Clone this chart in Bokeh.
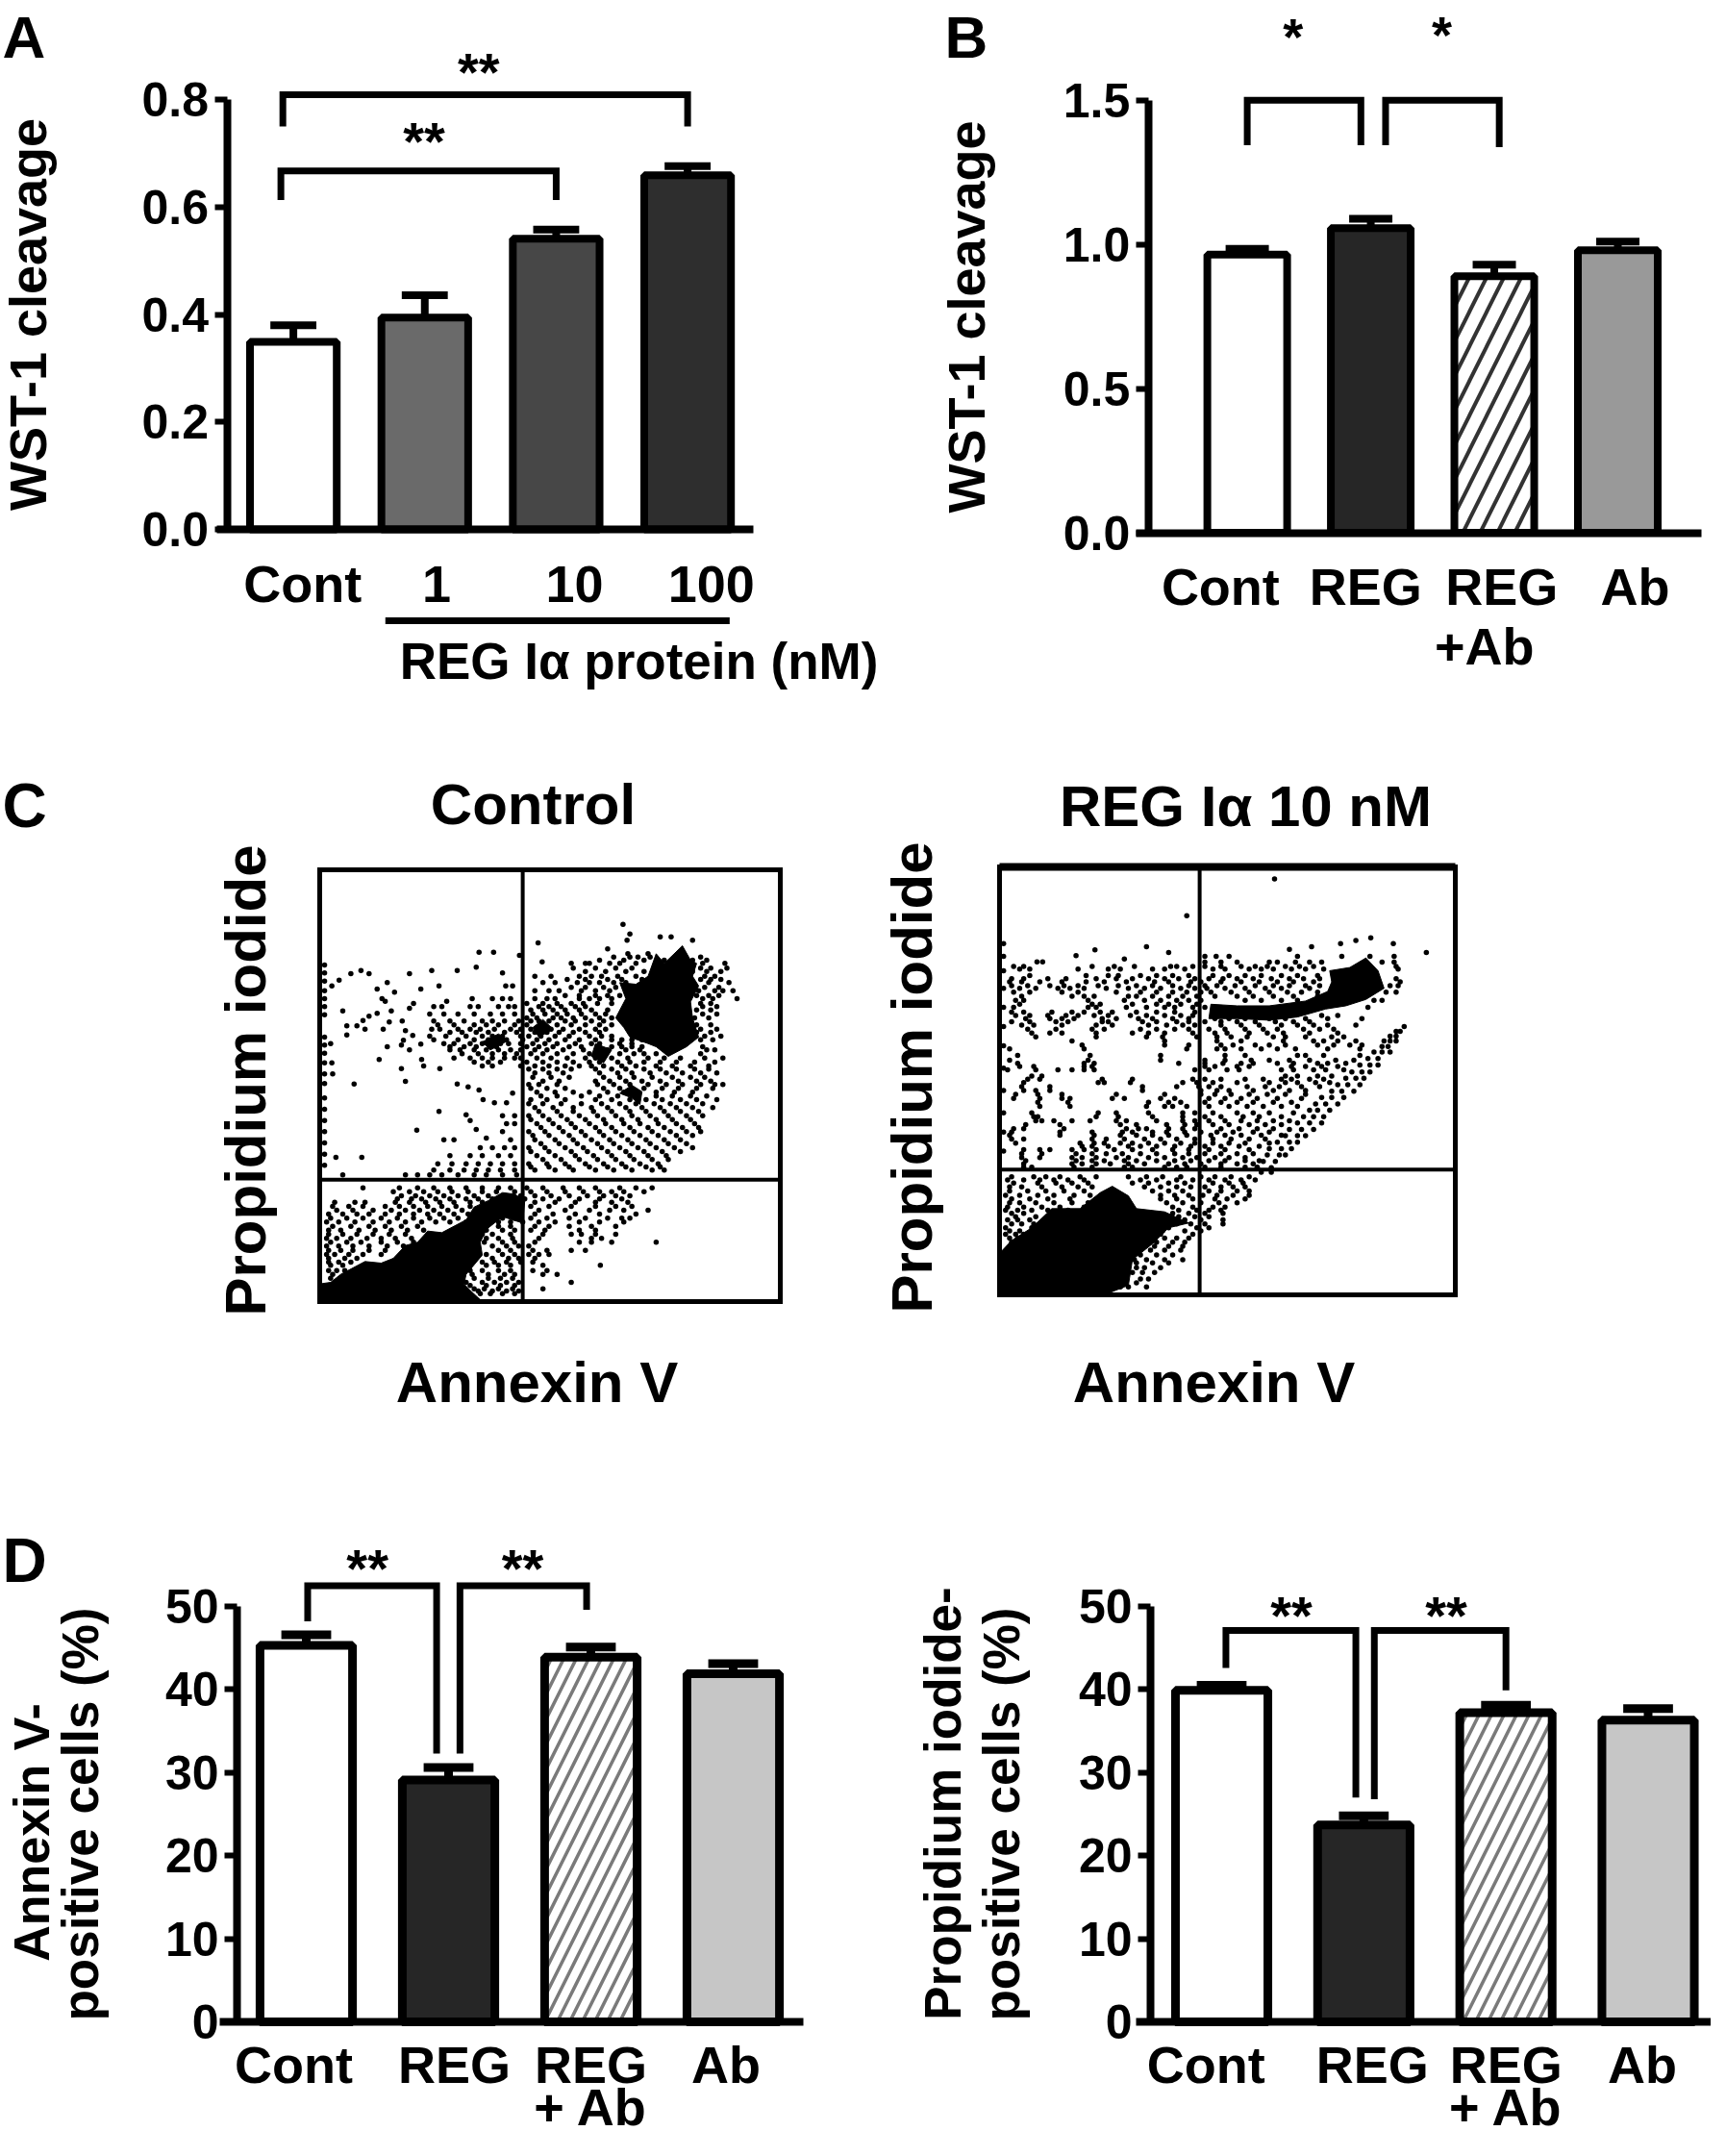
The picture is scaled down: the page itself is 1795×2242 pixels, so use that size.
from math import pi
from bokeh.plotting import figure
from bokeh.layouts import column, row
from bokeh.models import Range1d, LinearAxis, FixedTicker, PrintfTickFormatter
from bokeh.core.properties import value
from bokeh.embed import file_html
from bokeh.resources import INLINE

FONT = "Liberation Sans"

# ---------- Panel A ----------
a_labels = ["Cont", "1", "10", "100"]
a_mean = [0.349, 0.394, 0.541, 0.659]
a_err = [0.380, 0.436, 0.558, 0.676]
a_fill = ["#ffffff", "#6a6a6a", "#474747", "#2e2e2e"]
a_ticks = [1.07, 2.09, 3.14, 4.18]
a_yticks = [0, 0.2, 0.4, 0.6, 0.8]
a_br_x = [[0.92, 0.92, 4.0, 4.0], [0.905, 0.905, 3.0, 3.0]]
a_br_y = [[0.75, 0.809, 0.809, 0.75], [0.613, 0.667, 0.667, 0.613]]
a_star_x = [2.41, 1.995]
a_star_y = [0.866, 0.738]

# ---------- Panel B ----------
b_labels = ["Cont", "REG", "REG", "Ab"]
b_mean = [0.965, 1.057, 0.89, 0.98]
b_err = [0.985, 1.09, 0.93, 1.01]
b_fill = ["#ffffff", "#262626", "#ffffff", "#999999"]
b_ticks = [0.784, 1.958, 3.06, 4.14]
b_yticks = [0, 0.5, 1.0, 1.5]
b_br_x = [[1.0, 1.0, 1.92, 1.92], [2.12, 2.12, 3.04, 3.04]]
b_br_y = [[1.345, 1.501, 1.501, 1.345], [1.345, 1.501, 1.501, 1.338]]
b_star_x = [1.37, 2.575]
b_star_y = [1.748, 1.754]

# ---------- Panel D ----------
d_labels = ["Cont", "REG", "REG", "Ab"]
d_yticks = [0, 10, 20, 30, 40, 50]
d_fill = ["#ffffff", "#262626", "#ffffff", "#c6c6c6"]
d1_mean = [45.3, 29.1, 43.9, 41.9]
d1_err = [46.6, 30.6, 45.1, 43.1]
d1_ticks = [0.912, 2.04, 3.0, 3.95]
d1_br_x = [[1.01, 1.01, 1.916, 1.916], [2.08, 2.08, 2.97, 2.97]]
d1_br_y = [[48.2, 52.5, 52.5, 32.3], [32.3, 52.5, 52.5, 49.6]]
d1_star_x = [1.43, 2.52]
d1_star_y = [55.5, 55.5]
d2_mean = [39.9, 23.7, 37.2, 36.3]
d2_err = [40.5, 24.8, 38.1, 37.7]
d2_ticks = [0.89, 2.06, 3.0, 3.96]
d2_br_x = [[1.03, 1.03, 1.944, 1.944], [2.074, 2.074, 3.0, 3.0]]
d2_br_y = [[42.6, 47.1, 47.1, 27.0], [26.8, 47.1, 47.1, 39.9]]
d2_star_x = [1.49, 2.58]
d2_star_y = [49.9, 49.9]

# ---------- Panel C: dots (channel units, y grows downward) ----------
c1_box = [318, 1457, 78, 1425]
c1_gate_x = 820
c1_gate_y = 1045
c1_dense = [
    [(1150,340),(1170,370),(1215,315),(1235,360),(1250,370),(1240,410),(1255,440),(1235,490),(1240,540),(1255,600),(1225,630),(1180,660),(1150,630),(1130,620),(1085,600),(1070,570),(1050,540),(1075,480),(1060,430),(1100,435),(1130,410)],
    [(318,1425),(318,1370),(345,1365),(370,1340),(400,1320),(430,1300),(470,1305),(500,1290),(530,1250),(560,1240),(585,1205),(620,1210),(680,1170),(700,1130),(735,1110),(770,1085),(800,1090),(825,1110),(820,1180),(770,1160),(730,1200),(715,1240),(720,1280),(680,1340),(675,1370),(690,1390),(720,1425)],
    [(1090,750),(1115,770),(1110,810),(1090,790),(1060,775)],
    [(870,545),(895,575),(860,600),(845,570)],
    [(1000,620),(1040,640),(1020,680),(990,660)],
    [(760,590),(785,610),(740,640),(720,615)],
]
c1_pairs = [(1068,248),(1085,278),(1078,298),(1160,287),(1187,287),(1240,298),(858,306),(1030,325),(712,335),(748,335),(812,345),(868,365),(705,382),(770,400),(658,392),(595,392),(540,402),(420,392),(395,402),(440,402),(366,422),(348,440),(485,430),(460,450),(503,460),(613,440),(568,450),(778,440),(795,440),(472,480),(480,488),(632,488),(550,495),(540,510),(375,518),(460,526),(495,518),(440,535),(425,548),(410,565),(385,565),(430,575),(385,593),(490,553),(522,550),(475,575),(530,580),(548,595),(525,610),(485,630),(520,625),(540,640),(568,622),(465,670),(570,670),(575,690),(520,698),(615,698),(530,738),(403,746),(658,746),(685,755),(712,765),(722,795),(795,775),(750,805),(780,805),(613,832),(680,842),(690,860),(558,890),(705,888),(730,915),(358,975),(422,975),(330,375),(330,400),(330,425),(330,455),(330,480),(330,505),(330,530),(330,600),(330,625),(330,650),(330,680),(330,715),(330,745),(330,790),(330,825),(330,860),(330,895),(330,930),(330,965),(330,1000),(345,620),(348,680),(350,715),(375,1030)]
c1_rows = {
    340: [1080,1130], 350: [1045,1085,1105,1135,1260], 370: [940,975,985,1035,1060,1100,1265,1320],
    385: [945,1000,1050,1090,1260,1285,1325], 410: [850,890,960,990,1015,1055,1100,1270,1295],
    430: [870,900,955,985,1010,1045,1075,1280,1330], 455: [850,885,910,965,1000,1035,1255,1295,1315,1340],
    480: [695,745,770,790,850,880,900,960,985,1010,1040,1265,1290,1350],
    505: [600,620,690,710,760,785,800,860,885,915,950,975,1265,1300],
    528: [590,625,660,700,740,770,800,845,875,905,930,965,1000,1025,1265,1300],
    550: [600,640,675,720,745,775,810,840,860,885,925,950,990,1020],
    575: [595,615,660,690,715,750,790,815,840,865,890,920,960,1000,1025,1260,1300],
    597: [590,630,680,720,745,770,815,835,865,900,935,985,1015,1040,1270,1310],
    620: [625,650,690,720,740,765,785,815,845,875,905,950,990,1010,1060,1090],
    640: [640,665,700,730,760,790,815,850,880,920,970,1005,1030,1075,1110,1275,1295],
    665: [650,690,720,745,775,800,815,855,890,930,975,1000,1040,1080,1130,1170,1210,1270,1315],
    690: [720,745,815,850,885,925,960,990,1020,1065,1100,1150,1190,1235,1280],
    700: [835,870,905,940,1000,1040,1075,1120,1160,1200,1245,1280],
    725: [845,890,935,1020,1060,1095,1140,1190,1235,1270],
    748: [835,860,905,1005,1045,1085,1130,1175,1215,1260,1295,1315],
    772: [855,900,945,985,1030,1070,1100,1150,1195,1240],
    795: [840,880,925,1000,1040,1085,1125,1165,1210,1250,1300],
    820: [850,895,945,990,1030,1075,1115,1160,1200,1240,1290],
    845: [770,800,835,870,915,960,1005,1050,1090,1135,1180,1225,1265],
    870: [780,800,855,895,940,985,1025,1070,1110,1155,1200,1245],
    895: [770,835,875,920,965,1010,1050,1095,1140,1185,1225,1260],
    920: [625,650,790,850,900,945,990,1035,1080,1125,1170,1210],
    945: [715,745,775,800,835,875,925,970,1015,1060,1105,1150,1195,1240],
    970: [640,690,720,760,790,855,900,950,995,1040,1085,1130,1175],
    995: [610,645,680,710,740,770,800,835,880,925,975,1020,1065,1110,1155],
    1015: [600,640,675,705,735,765,800,850,900,945,1000,1045,1090,1140,1170],
    1030: [530,560,590,620,660,700,730,770,805],
    1070: [425,515,560,600,640,680,720,760,790,830,870,920,960,1000,1060,1100,1140],
    1095: [520,555,590,625,660,700,735,775,815,850,890,935,980,1020,1050,1085],
    1115: [355,405,430,505,540,580,615,650,690,720,755,790,850,900,950,1000,1040,1080],
    1140: [360,400,450,495,530,565,600,635,670,705,745,775,860,925,985,1035,1070,1130],
    1165: [345,385,425,470,510,550,590,625,660,700,770,800,840,880,935,975,1030,1065,1085],
    1190: [350,395,440,480,520,560,720,760,790,850,885,935,990,1050],
    1215: [340,375,410,450,490,530,720,745,790,870,940,965,1000,1050],
    1240: [345,385,420,470,510,550,725,770,800,850,960,990,1040,1150],
    1265: [340,370,400,440,480,760,790,845,880,940,975],
    1290: [340,380,410,745,785,810,850],
    1312: [345,375,730,760,790,870,1012],
    1340: [350,695,735,775,800,870,905],
    1365: [680,720,750,780,810,940],
    1385: [700,725,760,795,870],
    1400: [715,740,770,800],
}
c1_rows_between = {
    360: [1010,1070,1120,1170,1240,1275],
    395: [975,1025,1075,1120,1240,1275,1310],
    420: [930,975,1030,1065,1115,1260,1285,1310],
    445: [940,975,1020,1050,1270,1305],
    470: [925,960,1000,1030,1060,1250,1280,1305],
    495: [830,870,905,940,970,1005,1040,1260,1285],
    515: [840,870,895,925,960,990,1030,1250,1285],
    540: [830,855,895,915,945,975,1010,1040,1245,1280],
    562: [610,650,700,730,760,800,830,905,940,975,1010,1040,1250,1285],
    585: [640,670,705,735,775,805,850,880,910,945,975,1010,1250,1285],
    608: [600,660,700,735,780,820,855,885,925,960,1000,1040,1065,1090,1115,1260,1290],
    630: [640,675,705,755,830,860,895,935,965,1005,1040,1065,1090,1115,1265],
    652: [670,710,745,775,805,840,870,905,945,985,1015,1060,1095,1120,1150,1260],
    678: [700,735,765,830,870,905,945,985,1010,1055,1085,1120,1160,1200,1245,1295],
    712: [850,885,920,1010,1055,1090,1135,1175,1215,1260,1300],
    737: [870,910,1000,1035,1075,1115,1160,1205,1250,1285],
    760: [840,880,925,1020,1060,1120,1165,1205,1250,1290],
    784: [865,905,965,1010,1055,1105,1150,1190,1235,1275],
    808: [835,870,915,965,1015,1060,1100,1145,1185,1225,1265],
    832: [860,905,945,995,1040,1085,1125,1170,1210,1255],
    857: [840,885,930,975,1020,1065,1105,1150,1190,1235],
    882: [865,910,950,1000,1040,1085,1130,1170,1215,1255],
    907: [845,885,935,975,1020,1065,1110,1155,1200,1240],
    932: [865,910,955,1005,1045,1090,1135,1180,1225],
    957: [840,885,940,980,1030,1075,1120,1165,1210],
    982: [870,915,960,1005,1050,1095,1140,1180],
    1005: [840,885,935,985,1030,1075,1125,1160],
    1082: [500,540,575,610,645,685,720,755,800,840,880,925,970,1010,1040,1070,1120],
    1105: [510,545,570,605,640,680,710,745,780,825,870,910,960,1010,1065],
    1128: [350,390,425,480,515,550,585,620,655,690,730,765,800,840,885,940,1000,1050,1090],
    1152: [340,375,410,440,480,515,550,585,615,650,685,735,785,815,850,895,950,1010,1100],
    1177: [335,365,405,450,490,530,570,605,640,680,715,760,790,820,860,900,960,1010,1070],
    1202: [340,370,415,455,495,535,575,730,770,800,840,875,960,1000],
    1228: [335,360,395,435,470,505,545,730,760,795,860,990,1015],
    1252: [335,365,400,440,485,525,745,780,810,835],
    1278: [335,355,390,425,470,730,770,800,835,860,885],
    1302: [340,365,395,720,750,780,815,845],
    1328: [340,360,380,690,720,760,790,845,880],
    1352: [345,700,735,765,795],
    1375: [690,730,765,800],
    1392: [710,745,780,810],
}

c2_box = [90, 1222, 60, 1400]
c2_gate_x = 587
c2_gate_y = 1008
c2_dense = [
    [(90,1400),(90,1270),(120,1230),(170,1190),(220,1130),(290,1130),(340,1080),(370,1060),(410,1090),(430,1130),(500,1140),(560,1175),(510,1190),(470,1240),(420,1290),(410,1370),(350,1400)],
    [(910,385),(960,375),(1000,345),(1030,385),(1045,440),(1000,475),(950,495),(900,505),(830,530),(760,540),(680,535),(610,535),(615,490),(680,495),(760,495),(850,480),(905,450),(915,420)],
]
c2_pairs = [(773,98),(555,213),(1150,328),(1012,282),(975,290),(937,300),(1068,300),(865,310),(455,310),(327,320),(510,328),(280,338),(400,348),(810,318),(183,357),(197,357),(100,300),(100,340),(100,385),(100,440),(100,500),(100,560),(100,620),(100,690),(100,760),(100,830),(100,890),(100,950)]
c2_rows = {
    340: [600,628,660,830,940,1010,1070],
    358: [600,640,680,760,780,825,860,890,1040,1070],
    380: [140,165,285,360,390,470,500,550,620,650,710,740,770,815,850,895,1080],
    400: [165,305,360,385,440,480,520,560,620,660,700,740,790,830,880],
    420: [115,145,190,245,305,350,405,475,510,565,590,640,690,735,780,820,870,1085],
    440: [140,180,235,265,300,355,410,450,490,540,575,605,650,700,750,790,860],
    465: [145,270,300,325,410,430,470,510,545,580,625,680,720,770,820,880],
    490: [140,320,340,420,480,510,540,580],
    515: [120,150,220,270,300,340,370,430,480,525,575],
    535: [155,215,245,275,345,380,435,470,520,560,625,660,700,760,800,850,905,990],
    555: [145,175,245,330,370,460,505,545,575,640,690,735,790,830,870,905,975],
    580: [170,215,245,330,420,460,500,570,625,655,710,755,795,860,930],
    605: [270,500,630,690,795,870,895,930,975],
    630: [115,300,555,630,650,690,740,780,825,905,985],
    650: [135,315,490,650,700,830,850,895,985],
    675: [135,300,325,535,600,645,690,720,780,820,880,905,950],
    695: [110,180,235,270,300,325,575,610,655,685,790,820,870,900,945],
    715: [170,195,800,830,880,915],
    735: [150,335,350,415,545,580,620,680,760,800,830,875,910],
    760: [150,180,215,445,590,630,660,720,770,810,850],
    785: [125,190,245,265,370,400,490,525,610,650,690,730,780,840],
    810: [190,265,455,500,520,555,610,660,705,745,790,830],
    830: [170,335,380,460,545,575,620,680,720,760,820],
    855: [180,195,225,270,315,380,405,480,545,575,610,650,690,730,770,810],
    880: [125,150,250,405,435,455,510,545,575,640,685,730,770],
    900: [115,240,325,390,430,470,510,555,615,650,690,740,790],
    925: [130,290,325,350,390,420,460,500,540,575,620,660,700,760],
    945: [150,190,215,270,300,330,375,420,470,520,560,610,650,710],
    970: [145,190,270,295,330,380,410,460,500,545,580,625,660,700],
    990: [150,270,295,330,365,410,450,510,550,590,640,680,720],
    1030: [120,175,205,240,290,330,410,455,495,540,590,625,665,710],
    1050: [125,185,230,270,310,420,460,510,550,620,660,695],
    1075: [115,160,205,250,300,470,510,545,610,640,680,710],
    1100: [120,165,210,265,490,530,570,625,655,700],
    1125: [110,150,195,240,300,320,520,570,620,650],
    1145: [120,150,250,410,520,560,600,645],
    1165: [110,135,165,260,550,590,645],
    1190: [105,170,250,510,580,610],
    1210: [105,130,150,430,490,570],
    1235: [120,150,235,480,520,550],
    1260: [420,465,500,540],
    1290: [105,425,455,500,545],
    1315: [430,450,490],
    1350: [360,440,460],
    1375: [355,390,410,455],
}
c2_rows_between = {
    372: [125,150,320,375,425,515,530,570,600,640,690,725,755,800,835,870,1075],
    410: [120,150,210,255,330,380,420,460,500,535,575,610,645,680,720,765,810,845,885,1075],
    432: [120,160,215,250,285,335,385,430,470,520,560,600,630,675,725,770,810,850,885,1060,1080],
    452: [125,165,245,285,380,440,480,520,555,590,615,665,710,760,805,840,880,1050,1075],
    478: [130,150,310,400,450,490,530,560,590,700,740,790,830,870,1020,1040],
    500: [125,310,330,405,455,500,525,570,600,1005],
    525: [130,165,210,255,285,325,360,415,455,500,540,570,890,930],
    545: [120,165,230,260,345,360,445,480,530,560,600,640,680,725,775,820,860],
    568: [160,230,320,350,440,480,525,560,610,650,700,745,780,845,885,920],
    592: [180,330,455,495,580,630,665,705,770,800,850,915,945],
    618: [295,500,560,640,670,725,760,800,880,920,960,990],
    665: [115,310,490,600,650,715,760,810,860,925,970],
    685: [140,175,300,320,600,625,680,710,815,850,890,930],
    725: [160,190,345,420,570,600,640,700,745,790,815,860,895],
    748: [145,215,445,530,585,610,640,705,750,785,840,885],
    772: [130,185,245,380,500,590,625,665,710,755,800,850],
    797: [185,260,460,510,540,600,640,680,720,770,815],
    842: [175,185,330,385,470,545,600,640,695,735,790],
    867: [155,240,390,430,505,550,580,620,660,710,750,790],
    890: [120,240,320,395,420,470,505,550,590,630,670,720,760],
    912: [120,150,320,355,400,450,490,530,575,620,665,710,750],
    935: [295,320,360,410,440,480,525,565,600,640,685,735],
    958: [145,195,280,320,355,395,440,480,525,560,600,640,680,720],
    980: [155,280,320,350,400,430,480,525,565,610,650,700,735],
    1000: [150,170,275,320,400,420,500,530,555,600,640,700,730],
    1040: [110,150,190,225,260,300,440,480,530,570,610,650,690,725],
    1062: [115,145,195,245,285,320,450,490,530,565,600,640,670,700],
    1088: [105,140,185,225,275,315,490,525,560,595,630,670,710],
    1112: [115,140,180,225,270,310,505,545,590,635,680],
    1135: [105,135,170,210,260,300,535,580,610,640],
    1155: [130,180,240,535,575,610],
    1178: [120,145,175,530,565,600,645],
    1200: [115,140,495,550,590],
    1222: [115,135,440,500,530,560],
    1248: [130,430,475,510,545],
    1275: [415,440,480,520],
    1300: [430,470,510],
    1330: [420,445,475],
    1362: [400,430],
}
# the lower diagonal band of the right cytogram, row by row
c2_band = {
    560: [1095], 575: [1075,1085], 590: [1060,1075], 605: [1045,1060,1075], 622: [1040,1055],
    640: [1020,1040,1060], 660: [1005,1030], 680: [985,1010,1030], 702: [965,990,1010], 722: [950,975,995],
    742: [930,955,985], 762: [915,940,970], 782: [890,915,945], 802: [875,900,930], 822: [860,880,910],
    842: [845,870,895], 862: [830,860,890], 882: [810,840,870], 902: [800,830,850], 922: [780,810,830],
    942: [760,790,815], 962: [755,785,800], 982: [745,775], 1002: [730,765], 1016: [740,765],
}


def make(pl, pt, pr, pb, xa, ya):
    """Figure that covers page box (pl,pt)-(pr,pb); xa and ya anchor value/page-pixel pairs."""
    fx = lambda p: xa[0] + (p - xa[1]) * (xa[2] - xa[0]) / (xa[3] - xa[1])
    fy = lambda p: ya[0] + (p - ya[1]) * (ya[2] - ya[0]) / (ya[3] - ya[1])
    f = figure(width=pr - pl, height=pb - pt, output_backend="svg", toolbar_location=None,
               x_range=Range1d(fx(pl), fx(pr)), y_range=Range1d(fy(pb), fy(pt)),
               x_axis_location=None, y_axis_location=None, min_border=0,
               outline_line_color=None, background_fill_color="white", border_fill_color="white")
    f.grid.visible = False
    return f, fx, fy


def txt(f, x, y, s, size, angle=0, align="center", baseline="middle"):
    f.text(x=[x], y=[y], text=[s], text_font=value(FONT), text_font_style="bold",
           text_font_size=f"{size}px", text_align=align, text_baseline=baseline,
           angle=angle, text_color="black")


def bars(f, mean, err, fill, width, lw, hatch=None, hatch_color="#333333", hatch_scale=24, hatch_weight=4):
    xs = list(range(1, len(mean) + 1))
    f.segment(x0=xs, y0=mean, x1=xs, y1=err, line_color="black", line_width=lw)
    f.segment(x0=[i - 0.175 for i in xs], y0=err, x1=[i + 0.175 for i in xs], y1=err,
              line_color="black", line_width=lw)
    patterns = [" "] * len(xs)
    if hatch is not None:
        patterns[hatch] = "right_diagonal_line"
    f.vbar(x=xs, top=mean, bottom=0, width=width, fill_color=fill, line_color="black", line_width=lw,
           hatch_pattern=patterns, hatch_color=hatch_color, hatch_scale=hatch_scale, hatch_weight=hatch_weight)


def axes(f, ticks, labels, xbounds, xloc, yticks, fmt, ytop, ylabel, standoff, label_standoff, ylabel_size):
    xa = LinearAxis(fixed_location=0, bounds=xbounds, ticker=FixedTicker(ticks=ticks),
                    major_label_overrides=dict(zip(ticks, labels)),
                    major_label_text_font=FONT, major_label_text_font_style="bold",
                    major_label_text_font_size="54px", major_label_text_color="black",
                    major_tick_line_color=None, minor_tick_line_color=None, axis_line_width=8,
                    axis_line_color="black", major_label_standoff=label_standoff)
    f.add_layout(xa, "below")
    ya = LinearAxis(fixed_location=xloc, bounds=(0, ytop), ticker=FixedTicker(ticks=yticks),
                    formatter=PrintfTickFormatter(format=fmt),
                    major_label_text_font=FONT, major_label_text_font_style="bold",
                    major_label_text_font_size="50px", major_label_text_color="black",
                    major_tick_in=0, major_tick_out=13, major_tick_line_width=6, major_tick_line_color="black",
                    minor_tick_line_color=None, axis_line_width=8, axis_line_color="black",
                    major_label_standoff=6, axis_label=ylabel, axis_label_text_font=FONT,
                    axis_label_text_font_style="bold", axis_label_text_font_size=f"{ylabel_size}px",
                    axis_label_text_color="black", axis_label_standoff=standoff)
    f.add_layout(ya, "left")


def brackets(f, bx, by, sx, sy, size, stars):
    f.multi_line(xs=bx, ys=by, line_color="black", line_width=7, line_join="miter")
    f.text(x=sx, y=sy, text=[stars] * len(sx), text_font=value(FONT), text_font_style="bold",
           text_font_size=f"{size}px", text_align="center", text_baseline="middle", y_offset=8)


# ---- A ----
pa, ax, ay = make(8, 8, 950, 740, (1, 312.6, 4, 722.6), (0, 558, 0.8, 111))
bars(pa, a_mean, a_err, a_fill, 0.66, 8)
axes(pa, a_ticks, a_labels, (0.42, 4.5), 0.495, a_yticks, "%.1f", 0.8, "WST-1 cleavage", 86, 20, 54)
brackets(pa, a_br_x, a_br_y, a_star_x, a_star_y, 56, "**")
pa.line(x=[1.70, 4.32], y=[-0.17, -0.17], line_color="black", line_width=7)
txt(pa, 3.63, -0.245, "REG I\u03b1 protein (nM)", 53)
txt(pa, ax(10), ay(46), "A", 62, align="left")

# ---- B ----
pb, bx, by = make(950, 8, 1787, 740, (1, 1304.6, 4, 1690), (0, 561.6, 1.5, 112))
bars(pb, b_mean, b_err, b_fill, 0.646, 8, hatch=2, hatch_color="#333333", hatch_scale=36, hatch_weight=4)
axes(pb, b_ticks, b_labels, (0.097, 4.68), 0.2, b_yticks, "%.1f", 1.5, "WST-1 cleavage", 68, 20, 54)
brackets(pb, b_br_x, b_br_y, b_star_x, b_star_y, 54, "*")
txt(pb, 2.92, by(679), "+Ab", 54)
txt(pb, bx(990), by(46), "B", 62, align="left")


# ---- C ----
def cyto(f, box, gx, gy, dense, pairs, *rowsets):
    f.patches(xs=[[q[0] for q in d] for d in dense], ys=[[q[1] for q in d] for d in dense],
              fill_color="black", line_color="black", line_width=1)
    xs = [q[0] for q in pairs]
    ys = [q[1] for q in pairs]
    for rows in rowsets:
        xs += [x for y, r in rows.items() for x in r]
        ys += [y for y, r in rows.items() for x in r]
    f.scatter(x=xs, y=ys, marker="circle", size=5.5, fill_color="black", line_color=None)
    f.quad(left=[box[0]], right=[box[1]], top=[box[2]], bottom=[box[3]], fill_alpha=0,
           line_color="black", line_width=5, line_join="miter")
    f.segment(x0=[gx, box[0]], y0=[box[2], gy], x1=[gx, box[1]], y1=[box[3], gy], line_color="black", line_width=4)


pc1, c1x, c1y = make(8, 740, 900, 1590, (318, 340, 1457, 819), (78, 912, 1425, 1361))
cyto(pc1, c1_box, c1_gate_x, c1_gate_y, c1_dense, c1_pairs, c1_rows, c1_rows_between)
txt(pc1, c1x(562), c1y(844), "Control", 60)
txt(pc1, c1x(566), c1y(1445), "Annexin V", 60)
txt(pc1, c1x(263), c1y(1131), "Propidium iodide", 60, angle=pi / 2)
txt(pc1, c1x(10), c1y(845), "C", 64, align="left")

pc2, c2x, c2y = make(900, 740, 1787, 1590, (90, 1047, 1222, 1521), (60, 909, 1400, 1354))
cyto(pc2, c2_box, c2_gate_x, c2_gate_y, c2_dense, c2_pairs, c2_rows, c2_rows_between, c2_band)
pc2.segment(x0=[c2_box[0]], y0=[c2_box[2]], x1=[c2_box[1]], y1=[c2_box[2]], line_color="black", line_width=8)
txt(pc2, c2x(1303), c2y(846), "REG I\u03b1 10 nM", 60)
txt(pc2, c2x(1270), c2y(1445), "Annexin V", 60)
txt(pc2, c2x(956), c2y(1128), "Propidium iodide", 60, angle=pi / 2)

# ---- D ----
pd1, d1x, d1y = make(8, 1590, 950, 2234, (1, 326, 4, 770), (0, 2110, 50, 1678))
bars(pd1, d1_mean, d1_err, d_fill, 0.65, 9, hatch=2, hatch_color="#7a7a7a", hatch_scale=26, hatch_weight=3.5)
axes(pd1, d1_ticks, d_labels, (0.392, 4.49), 0.514, d_yticks, "%d", 50, "positive cells (%)", 56, 8, 53)
brackets(pd1, d1_br_x, d1_br_y, d1_star_x, d1_star_y, 56, "**")
txt(pd1, 3.0, d1y(2198), "+ Ab", 54)
txt(pd1, d1x(40), d1y(1913), "Annexin V-", 52, angle=pi / 2)
txt(pd1, d1x(10), d1y(1630), "D", 64, align="left")

pd2, d2x, d2y = make(950, 1590, 1787, 2234, (1, 1278, 4, 1721.5), (0, 2110, 50, 1678))
bars(pd2, d2_mean, d2_err, d_fill, 0.65, 9, hatch=2, hatch_color="#7a7a7a", hatch_scale=26, hatch_weight=3.5)
axes(pd2, d2_ticks, d_labels, (0.4, 4.45), 0.5, d_yticks, "%d", 50, "positive cells (%)", 48, 8, 53)
brackets(pd2, d2_br_x, d2_br_y, d2_star_x, d2_star_y, 56, "**")
txt(pd2, 3.0, d2y(2198), "+ Ab", 54)
txt(pd2, d2x(988), d2y(1883), "Propidium iodide-", 53, angle=pi / 2)

page = column(row(pa, pb), row(pc1, pc2), row(pd1, pd2))
open("out.html", "w").write(file_html(page, INLINE))
